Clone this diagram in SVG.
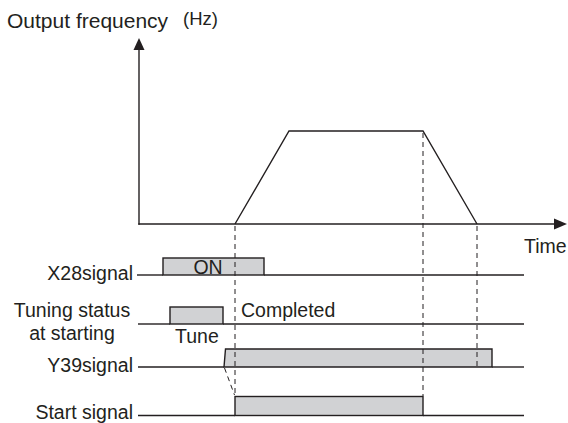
<svg xmlns="http://www.w3.org/2000/svg" width="568" height="423" viewBox="0 0 568 423">
<defs>
<style>
.ln{fill:none;stroke:#231f20;stroke-width:1.4}
.sig{fill:#d1d2d4;stroke:#231f20;stroke-width:1.4}
.dash{fill:none;stroke:#231f20;stroke-width:1;stroke-dasharray:5,4}
.t{font-family:"Liberation Sans",Arial,sans-serif;font-size:19.5px;fill:#231f20}
.r{text-anchor:end}
.m{text-anchor:middle}
</style>
</defs>
<rect width="568" height="423" fill="#fff"/>
<g id="axes">
<line class="ln" x1="139" y1="48" x2="139" y2="224.7"/>
<polygon points="139,38 133.5,50 144.5,50" fill="#231f20"/>
<line class="ln" x1="138.3" y1="224" x2="556" y2="224"/>
<polygon points="567,224 554,218.5 554,229.5" fill="#231f20"/>
<text class="t" x="7" y="28" style="font-size:21px">Output frequency</text>
<text class="t" x="183" y="25" style="font-size:18.5px">(Hz)</text>
<text class="t" x="524" y="253">Time</text>
</g>
<g id="frequency">
<polyline class="ln" points="235,224 289,131 423,131 477,224"/>
</g>
<g id="x28">
<polyline class="ln" points="137,275 163,275"/>
<rect class="sig" x="163" y="258" width="101" height="17"/>
<line class="ln" x1="264" y1="275" x2="524" y2="275"/>
<text class="t r" x="133" y="280">X28signal</text>
<text class="t m" x="208" y="274">ON</text>
</g>
<g id="tuning">
<line class="ln" x1="138" y1="324" x2="170" y2="324"/>
<rect class="sig" x="170" y="307" width="53" height="17"/>
<line class="ln" x1="223" y1="324" x2="524" y2="324"/>
<text class="t m" x="72" y="316.5">Tuning status</text>
<text class="t m" x="72" y="340">at starting</text>
<text class="t" x="175" y="343">Tune</text>
<text class="t" x="241" y="317">Completed</text>
</g>
<g id="y39">
<line class="ln" x1="138" y1="367" x2="224" y2="367"/>
<polygon class="sig" points="224,367 225.5,349 492,349 492,367"/>
<line class="ln" x1="492" y1="367" x2="524" y2="367"/>
<text class="t r" x="133" y="372">Y39signal</text>
</g>
<g id="start">
<line class="ln" x1="138" y1="415.5" x2="235" y2="415.5"/>
<rect class="sig" x="235" y="396.5" width="188" height="19"/>
<line class="ln" x1="423" y1="415.5" x2="524" y2="415.5"/>
<text class="t r" x="133" y="418.5">Start signal</text>
</g>
<g id="connectors">
<line class="dash" x1="235" y1="226" x2="235" y2="396"/>
<line class="dash" x1="423" y1="133" x2="423" y2="396"/>
<line class="dash" x1="477" y1="226" x2="477" y2="367"/>
<line class="dash" x1="224.5" y1="368" x2="234.5" y2="395"/>
</g>
</svg>
